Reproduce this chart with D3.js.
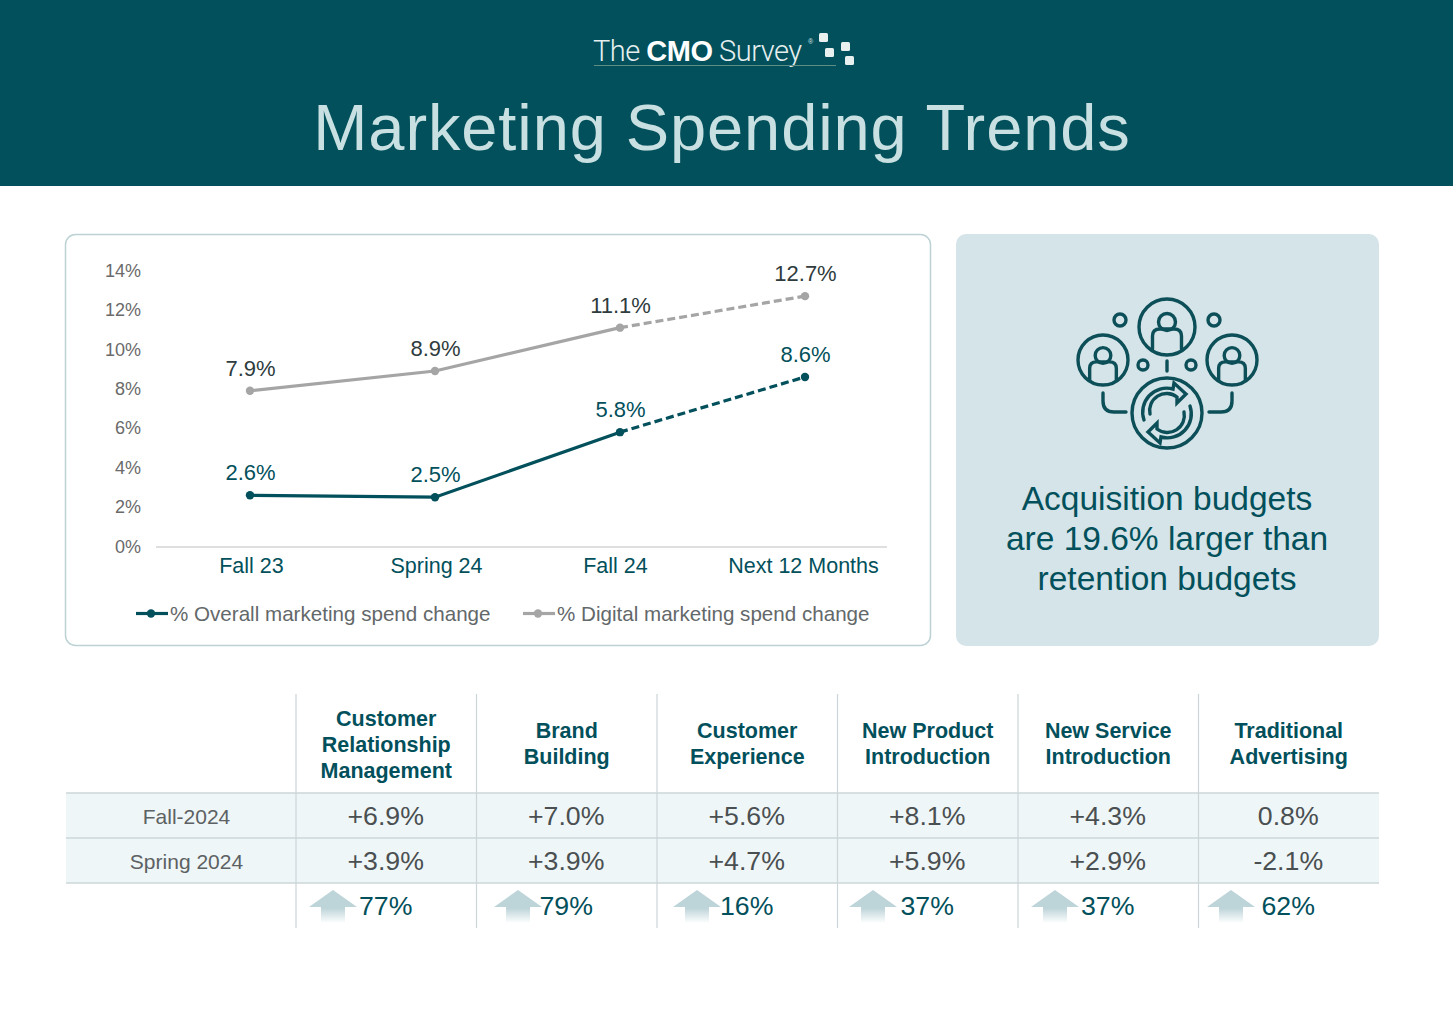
<!DOCTYPE html>
<html>
<head>
<meta charset="utf-8">
<script src="https://cdn.jsdelivr.net/npm/d3@7"></script>
<style>
  body { margin: 0; background: #fff; }
  text { font-family: "Liberation Sans", sans-serif; }
</style>
</head>
<body>
<svg id="chart" width="1456" height="1014"></svg>
<script>
// chart data
const periods = ["Fall 23", "Spring 24", "Fall 24", "Next 12 Months"];
const overallSpend = [2.6, 2.5, 5.8, 8.6];
const digitalSpend = [7.9, 8.9, 11.1, 12.7];
const yTicks = [0, 2, 4, 6, 8, 10, 12, 14];
const seriesNames = ["% Overall marketing spend change", "% Digital marketing spend change"];

// table data
const columns = [
  ["Customer", "Relationship", "Management"],
  ["Brand", "Building"],
  ["Customer", "Experience"],
  ["New Product", "Introduction"],
  ["New Service", "Introduction"],
  ["Traditional", "Advertising"]
];
const rowNames = ["Fall-2024", "Spring 2024"];
const fall2024 = ["+6.9%", "+7.0%", "+5.6%", "+8.1%", "+4.3%", "0.8%"];
const spring2024 = ["+3.9%", "+3.9%", "+4.7%", "+5.9%", "+2.9%", "-2.1%"];
const growth = ["77%", "79%", "16%", "37%", "37%", "62%"];

const teal = "#02505b";
const grey = "#a5a5a5";
const svg = d3.select("#chart");

// header
svg.append("rect").attr("width", 1453).attr("height", 186).attr("fill", teal);
svg.append("text").attr("x", 722).attr("y", 150).attr("text-anchor", "middle")
  .attr("font-size", 65).attr("letter-spacing", 0.9).attr("fill", "#c9e0e2").text("Marketing Spending Trends");

// logo
const logo = svg.append("text").attr("x", 593).attr("y", 61).attr("font-size", 29).attr("letter-spacing", -0.5);
logo.append("tspan").style("font-family", "Roboto").attr("font-weight", 300).attr("fill", "#e6efef").text("The ");
logo.append("tspan").attr("font-weight", 700).attr("fill", "#fff").text("CMO");
logo.append("tspan").style("font-family", "Roboto").attr("font-weight", 300).attr("fill", "#e6efef").text(" Survey");
svg.append("text").attr("x", 808).attr("y", 44).attr("font-size", 7).attr("fill", "#dfeaea").text("®");
svg.append("line").attr("x1", 594).attr("x2", 836).attr("y1", 65.5).attr("y2", 65.5).attr("stroke", "#5f8f84").attr("stroke-width", 1);
[[819, 33], [825, 48], [841, 42], [845, 56]].forEach(d => {
  svg.append("rect").attr("x", d[0]).attr("y", d[1]).attr("width", 9).attr("height", 9).attr("rx", 1.5).attr("fill", "#e8f0f0");
});

// chart card
svg.append("rect").attr("x", 65.5).attr("y", 234.5).attr("width", 865).attr("height", 411).attr("rx", 10)
  .attr("fill", "#fff").attr("stroke", "#bcd2d4").attr("stroke-width", 1.5);

const x = d3.scalePoint().domain(periods).range([250, 805]);
const y = d3.scaleLinear().domain([0, 14]).range([546.5, 270.5]);

// y axis
const yAxis = svg.append("g").attr("transform", "translate(141,0)")
  .call(d3.axisLeft(y).tickValues(yTicks).tickFormat(d => d + "%").tickSize(0).tickPadding(0));
yAxis.select(".domain").remove();
yAxis.selectAll("text").attr("font-size", 18).attr("fill", "#6a6a6a")
  .style("font-family", '"Liberation Sans", sans-serif');

// x axis
svg.append("line").attr("x1", 156).attr("x2", 887).attr("y1", 547).attr("y2", 547).attr("stroke", "#d4d4d4").attr("stroke-width", 1.5);
const labelShift = [1, 1, -5, -2];
const xAxis = svg.append("g").attr("transform", "translate(0,547)")
  .call(d3.axisBottom(x).tickSize(0).tickPadding(11));
xAxis.select(".domain").remove();
xAxis.selectAll("text").attr("font-size", 21.5).attr("fill", teal).attr("dx", (d, i) => labelShift[i])
  .style("font-family", '"Liberation Sans", sans-serif');

// lines, solid for actuals and dashed for the forecast
function drawSeries(values, color, labelColor, r) {
  const points = values.map((v, i) => [periods[i], v]);
  const path = d3.line().x(d => x(d[0])).y(d => y(d[1]));
  svg.append("path").attr("d", path(points.slice(0, 3))).attr("fill", "none").attr("stroke", color).attr("stroke-width", 3.2);
  svg.append("path").attr("d", path(points.slice(2))).attr("fill", "none").attr("stroke", color).attr("stroke-width", 3.2).attr("stroke-dasharray", "8 4");
  svg.selectAll(null).data(points).enter().append("circle")
    .attr("cx", d => x(d[0])).attr("cy", d => y(d[1])).attr("r", r).attr("fill", color);
  svg.selectAll(null).data(points).enter().append("text")
    .attr("x", d => x(d[0]) + 0.5).attr("y", d => y(d[1]) - 15)
    .attr("text-anchor", "middle").attr("font-size", 22).attr("fill", labelColor)
    .text(d => d[1].toFixed(1) + "%");
}
drawSeries(digitalSpend, grey, "#2f3b3d", 4.2);
drawSeries(overallSpend, teal, teal, 4.2);

// legend
const legendX = [136, 523];
[teal, grey].forEach((c, i) => {
  svg.append("line").attr("x1", legendX[i]).attr("x2", legendX[i] + 32).attr("y1", 613.5).attr("y2", 613.5).attr("stroke", c).attr("stroke-width", 3.2);
  svg.append("circle").attr("cx", legendX[i] + 15).attr("cy", 613.5).attr("r", 4.2).attr("fill", c);
  svg.append("text").attr("x", legendX[i] + 34).attr("y", 621).attr("font-size", 20.6).attr("fill", "#63686a").text(seriesNames[i]);
});

// side panel
svg.append("rect").attr("x", 956).attr("y", 234).attr("width", 423).attr("height", 412).attr("rx", 10).attr("fill", "#d5e4e8");
["Acquisition budgets", "are 19.6% larger than", "retention budgets"].forEach((t, i) => {
  svg.append("text").attr("x", 1167).attr("y", 510 + i * 40).attr("text-anchor", "middle")
    .attr("font-size", 33.5).attr("fill", teal).text(t);
});

// icon
const icon = svg.append("g").attr("fill", "none").attr("stroke", "#0c4f58").attr("stroke-width", 3.4).attr("stroke-linecap", "round");
function person(cx, cy, r, s) {
  icon.append("circle").attr("cx", cx).attr("cy", cy).attr("r", r);
  icon.append("circle").attr("cx", cx).attr("cy", cy - 5 * s).attr("r", 8.5 * s);
  const p = d3.path();
  p.moveTo(cx - 14.5 * s, cy + 22 * s);
  p.lineTo(cx - 14.5 * s, cy + 9 * s);
  p.quadraticCurveTo(cx - 14.5 * s, cy + 2 * s, cx - 7 * s, cy + 2 * s);
  p.lineTo(cx + 7 * s, cy + 2 * s);
  p.quadraticCurveTo(cx + 14.5 * s, cy + 2 * s, cx + 14.5 * s, cy + 9 * s);
  p.lineTo(cx + 14.5 * s, cy + 22 * s);
  icon.append("path").attr("d", p.toString());
}
person(1167, 327, 28, 1);
person(1103, 360, 25, 0.92);
person(1232, 360, 25, 0.92);
[[1120, 320, 6], [1214, 320, 6], [1143, 365, 5], [1191, 365, 5]].forEach(d => {
  icon.append("circle").attr("cx", d[0]).attr("cy", d[1]).attr("r", d[2]);
});
icon.append("path").attr("d", "M1167,361V371");
icon.append("path").attr("d", "M1103,393V401Q1103,412 1114,412H1126");
icon.append("path").attr("d", "M1232,393V401Q1232,412 1221,412H1209");
icon.append("circle").attr("cx", 1167).attr("cy", 413).attr("r", 35);
const sync = "M-23,7A24,24 0 0 1 6,-24L7,-30L19,-19L10,-10L10,-16A17,17 0 0 0 -17,1";
icon.append("path").attr("transform", "translate(1167,413)").attr("d", sync);
icon.append("path").attr("transform", "translate(1167,413) rotate(180)").attr("d", sync);

// table
const colX = d3.scaleBand().domain(d3.range(columns.length)).range([296, 1379]);
const rowTop = 793, rowH = 45;
const rowY = i => rowTop + i * rowH;
const lineColor = "#ccd6d9";

svg.append("rect").attr("x", 66).attr("y", rowTop).attr("width", 1313).attr("height", rowH * 2).attr("fill", "#eff6f7");
d3.range(3).forEach(i => {
  svg.append("line").attr("x1", 66).attr("x2", 1379).attr("y1", rowY(i)).attr("y2", rowY(i)).attr("stroke", lineColor).attr("stroke-width", 1.5);
});
columns.forEach((c, i) => {
  svg.append("line").attr("x1", colX(i)).attr("x2", colX(i)).attr("y1", 694).attr("y2", 928).attr("stroke", lineColor).attr("stroke-width", 1.2);
  const cx = colX(i) + colX.bandwidth() / 2;
  const firstY = c.length === 3 ? 726 : 738;
  c.forEach((t, j) => {
    svg.append("text").attr("x", cx).attr("y", firstY + j * 26).attr("text-anchor", "middle")
      .attr("font-size", 21.5).attr("font-weight", 700).attr("fill", teal).text(t);
  });
});

rowNames.forEach((t, i) => {
  svg.append("text").attr("x", 186.5).attr("y", rowY(i) + 31).attr("text-anchor", "middle").attr("font-size", 21).attr("fill", "#5c6163").text(t);
});
[fall2024, spring2024].forEach((row, i) => {
  row.forEach((t, j) => {
    svg.append("text").attr("x", colX(j) + colX.bandwidth() / 2 - 0.5).attr("y", rowY(i) + 32).attr("text-anchor", "middle")
      .attr("font-size", 26.7).attr("fill", "#4a4f51").text(t);
  });
});

// growth arrows
const grad = svg.append("defs").append("linearGradient").attr("id", "arrowFade").attr("x1", 0).attr("x2", 0).attr("y1", 0).attr("y2", 1);
grad.append("stop").attr("offset", "0").attr("stop-color", "#bdd4d9");
grad.append("stop").attr("offset", "0.55").attr("stop-color", "#bdd4d9");
grad.append("stop").attr("offset", "1").attr("stop-color", "#fff");
const arrowX = [333, 518, 697, 873, 1055, 1231];
growth.forEach((t, j) => {
  svg.append("path").attr("transform", `translate(${arrowX[j]},890)`)
    .attr("d", "M0,0L24,17H12V33H-12V17H-24Z").attr("fill", "url(#arrowFade)");
  svg.append("text").attr("x", colX(j) + colX.bandwidth() / 2 - 0.5).attr("y", rowY(2) + 32).attr("text-anchor", "middle")
    .attr("font-size", 26.7).attr("fill", teal).text(t);
});
</script>
</body>
</html>
